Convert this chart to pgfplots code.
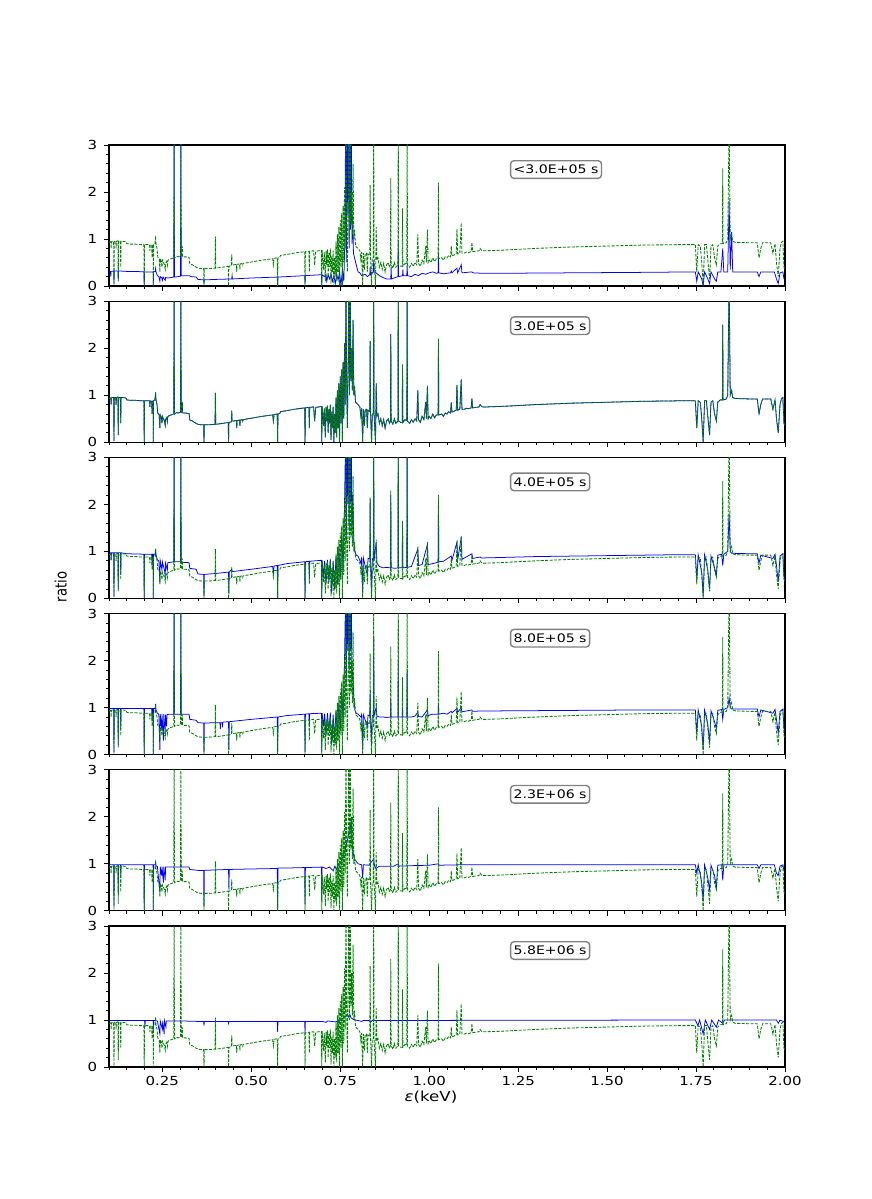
\documentclass[border=0pt]{standalone}
\usepackage{pgfplots}
\pgfplotsset{compat=1.18}
\usepackage{pgfplotstable}
\usepackage{graphicx}
\usepackage{fontspec}
\setmainfont{DejaVu Sans}
\definecolor{mplgreen}{rgb}{0,0.5,0}
\definecolor{mplblue}{rgb}{0,0,1}
\newcommand\sx[1]{\scalebox{1.2}[1]{#1}}

\pgfplotstableread{
x y
0.100 0.93
0.103 0.94
0.105 0.94
0.106 0.80
0.107 0.94
0.110 0.95
0.113 0.95
0.114 0.02
0.115 0.95
0.119 0.95
0.120 0.80
0.121 0.95
0.125 0.96
0.126 0.15
0.127 0.95
0.132 0.95
0.133 0.40
0.134 0.95
0.140 0.95
0.148 0.94
0.150 0.90
0.160 0.89
0.175 0.89
0.190 0.88
0.198 0.88
0.199 0.00
0.200 0.88
0.214 0.88
0.215 0.75
0.216 0.88
0.220 0.87
0.221 0.60
0.222 0.87
0.224 0.88
0.2245 0.00
0.225 0.88
0.229 0.90
0.231 1.06
0.232 0.90
0.235 0.80
0.237 0.62
0.241 0.58
0.243 0.30
0.244 0.58
0.247 0.52
0.249 0.40
0.250 0.55
0.253 0.50
0.256 0.45
0.258 0.36
0.259 0.48
0.262 0.52
0.264 0.44
0.265 0.54
0.270 0.57
0.275 0.58
0.282 0.60
0.283 3.50
0.284 0.60
0.290 0.63
0.295 0.62
0.301 0.64
0.302 3.50
0.303 0.62
0.306 0.85
0.307 0.62
0.315 0.62
0.325 0.61
0.327 0.47
0.335 0.45
0.340 0.42
0.345 0.40
0.350 0.38
0.360 0.37
0.366 0.37
0.367 0.00
0.368 0.37
0.380 0.37
0.398 0.38
0.399 1.05
0.400 0.38
0.420 0.40
0.435 0.42
0.436 0.00
0.437 0.42
0.444 0.43
0.445 0.67
0.446 0.45
0.450 0.45
0.458 0.46
0.459 0.30
0.460 0.46
0.467 0.47
0.468 0.35
0.469 0.47
0.475 0.48
0.476 0.45
0.477 0.48
0.500 0.51
0.530 0.55
0.560 0.58
0.562 0.45
0.564 0.59
0.573 0.60
0.574 0.00
0.575 0.60
0.580 0.61
0.582 0.65
0.600 0.67
0.620 0.70
0.640 0.72
0.650 0.73
0.651 0.00
0.652 0.73
0.662 0.74
0.663 0.30
0.664 0.74
0.675 0.75
0.678 0.45
0.681 0.74
0.690 0.75
0.697 0.76
0.698 0.00
0.699 0.76
0.703 0.35
0.705 0.72
0.708 0.10
0.710 0.75
0.712 0.45
0.714 0.78
0.716 0.20
0.718 0.70
0.720 0.40
0.722 0.80
0.724 0.05
0.726 0.65
0.728 0.30
0.730 0.75
0.732 0.00
0.734 0.60
0.736 0.20
0.738 0.95
0.740 0.10
0.742 1.10
0.744 0.30
0.746 1.25
0.748 0.00
0.750 1.40
0.752 0.40
0.754 1.55
0.756 0.00
0.758 1.70
0.760 0.50
0.762 2.10
0.764 0.80
0.766 3.50
0.768 1.20
0.770 0.30
0.772 1.60
0.774 3.50
0.776 1.00
0.778 3.50
0.780 1.30
0.782 2.00
0.784 1.10
0.786 2.60
0.788 1.00
0.790 1.20
0.793 0.85
0.797 0.82
0.800 0.80
0.805 0.75
0.808 0.55
0.810 0.72
0.813 0.00
0.815 0.70
0.818 0.35
0.820 0.68
0.824 0.70
0.826 0.30
0.828 0.68
0.833 0.65
0.834 2.15
0.835 0.65
0.838 0.00
0.840 0.60
0.843 0.60
0.844 3.50
0.845 0.60
0.849 0.00
0.851 1.25
0.853 0.55
0.856 0.60
0.860 0.40
0.864 0.50
0.868 0.35
0.872 0.48
0.876 0.30
0.880 0.45
0.885 0.50
0.888 0.40
0.891 0.45
0.892 2.30
0.893 0.45
0.898 0.38
0.902 0.50
0.906 0.40
0.912 0.45
0.913 3.50
0.914 0.45
0.920 0.42
0.924 0.42
0.925 1.65
0.926 0.42
0.932 0.48
0.937 0.46
0.938 3.50
0.939 0.45
0.945 0.40
0.950 0.48
0.955 0.42
0.960 0.50
0.965 0.45
0.968 1.10
0.970 0.48
0.975 0.42
0.980 0.55
0.985 0.48
0.990 0.85
0.992 0.50
0.995 1.20
0.997 0.50
1.000 0.55
1.005 0.50
1.010 0.60
1.015 0.52
1.020 0.58
1.025 0.58
1.026 2.20
1.027 0.58
1.035 0.60
1.040 0.55
1.045 0.62
1.050 0.60
1.055 0.65
1.060 0.62
1.062 0.85
1.064 0.64
1.070 0.66
1.076 0.68
1.078 1.22
1.080 0.68
1.086 0.70
1.090 1.34
1.092 0.70
1.098 0.70
1.105 0.72
1.110 0.71
1.118 0.73
1.120 0.93
1.122 0.73
1.130 0.74
1.140 0.75
1.143 0.80
1.147 0.76
1.150 0.75
1.160 0.75
1.200 0.76
1.250 0.78
1.300 0.80
1.400 0.83
1.500 0.85
1.600 0.87
1.700 0.88
1.748 0.88
1.752 0.30
1.756 0.88
1.762 0.85
1.766 0.50
1.770 0.00
1.774 0.88
1.779 0.88
1.783 0.55
1.788 0.15
1.792 0.85
1.797 0.88
1.802 0.60
1.807 0.45
1.811 0.85
1.818 0.90
1.824 0.90
1.825 2.50
1.826 0.90
1.835 0.92
1.839 1.00
1.843 3.50
1.846 1.00
1.850 1.10
1.853 0.95
1.860 0.93
1.900 0.92
1.922 0.92
1.927 0.60
1.932 0.80
1.937 0.92
1.960 0.92
1.966 0.70
1.972 0.90
1.976 0.50
1.981 0.20
1.986 0.80
1.990 0.93
1.994 0.95
1.997 0.40
2.000 0.35
}\Gtab

\pgfplotstableread{
x y
0.100 0.31
0.104 0.31
0.105 0.20
0.106 0.31
0.113 0.32
0.114 0.05
0.115 0.32
0.125 0.32
0.126 0.10
0.127 0.32
0.150 0.31
0.175 0.31
0.198 0.30
0.199 0.00
0.200 0.30
0.224 0.30
0.2245 0.00
0.225 0.30
0.230 0.31
0.231 0.37
0.232 0.30
0.236 0.22
0.240 0.20
0.243 0.10
0.244 0.20
0.248 0.18
0.250 0.12
0.252 0.19
0.258 0.12
0.259 0.18
0.265 0.17
0.275 0.18
0.282 0.19
0.283 3.50
0.284 0.19
0.295 0.20
0.301 0.21
0.302 3.50
0.303 0.22
0.315 0.22
0.327 0.22
0.330 0.20
0.345 0.19
0.350 0.14
0.366 0.13
0.367 0.05
0.368 0.13
0.400 0.14
0.445 0.15
0.446 0.22
0.447 0.15
0.500 0.17
0.573 0.19
0.574 0.00
0.575 0.19
0.600 0.20
0.650 0.22
0.651 0.05
0.652 0.22
0.697 0.24
0.698 0.00
0.699 0.24
0.705 0.20
0.710 0.25
0.712 0.10
0.716 0.24
0.720 0.15
0.724 0.25
0.728 0.10
0.732 0.22
0.736 0.05
0.740 0.25
0.744 0.12
0.748 0.30
0.752 0.00
0.756 0.35
0.760 0.10
0.763 1.00
0.765 3.50
0.767 0.50
0.769 3.50
0.771 1.50
0.773 3.50
0.775 0.80
0.777 3.50
0.779 1.20
0.781 3.50
0.783 0.90
0.785 1.50
0.787 0.70
0.790 0.60
0.795 0.45
0.800 0.30
0.805 0.28
0.810 0.22
0.820 0.25
0.826 0.20
0.833 0.24
0.834 0.40
0.835 0.24
0.843 0.30
0.844 0.55
0.845 0.30
0.850 0.28
0.860 0.22
0.870 0.18
0.880 0.15
0.892 0.15
0.893 0.40
0.894 0.15
0.905 0.18
0.912 0.20
0.913 0.95
0.914 0.20
0.925 0.22
0.926 0.35
0.927 0.22
0.937 0.22
0.938 0.45
0.939 0.22
0.950 0.20
0.960 0.25
0.970 0.22
0.980 0.27
0.990 0.25
1.000 0.28
1.010 0.30
1.020 0.27
1.025 0.28
1.026 0.70
1.027 0.28
1.040 0.26
1.060 0.28
1.062 0.32
1.064 0.28
1.078 0.38
1.080 0.28
1.090 0.45
1.092 0.28
1.120 0.30
1.122 0.28
1.150 0.27
1.200 0.27
1.400 0.28
1.600 0.29
1.748 0.30
1.752 0.10
1.756 0.30
1.766 0.15
1.770 0.00
1.774 0.30
1.783 0.15
1.788 0.05
1.792 0.30
1.802 0.15
1.807 0.10
1.811 0.30
1.820 0.30
1.825 0.80
1.828 0.30
1.839 0.30
1.843 1.80
1.846 0.35
1.850 1.15
1.853 0.30
1.900 0.30
1.922 0.30
1.927 0.20
1.932 0.30
1.970 0.30
1.976 0.15
1.981 0.05
1.986 0.28
1.994 0.30
1.997 0.15
2.000 0.15
}\Bone

\pgfplotstableread{
x y
0.100 0.97
0.105 0.97
0.106 0.82
0.107 0.97
0.113 0.97
0.114 0.05
0.115 0.97
0.125 0.97
0.126 0.20
0.127 0.97
0.132 0.97
0.133 0.50
0.134 0.97
0.150 0.95
0.198 0.94
0.199 0.00
0.200 0.94
0.220 0.94
0.221 0.70
0.222 0.94
0.224 0.94
0.2245 0.00
0.225 0.94
0.230 0.94
0.231 1.05
0.232 0.93
0.236 0.82
0.240 0.80
0.243 0.35
0.244 0.80
0.249 0.60
0.250 0.78
0.256 0.60
0.258 0.45
0.259 0.75
0.264 0.60
0.265 0.76
0.275 0.77
0.282 0.78
0.283 3.50
0.284 0.78
0.301 0.78
0.302 3.50
0.303 0.77
0.325 0.76
0.327 0.64
0.345 0.62
0.350 0.52
0.366 0.51
0.367 0.05
0.368 0.51
0.400 0.53
0.436 0.56
0.437 0.10
0.438 0.56
0.445 0.62
0.446 0.57
0.500 0.62
0.560 0.68
0.562 0.55
0.564 0.69
0.573 0.70
0.574 0.00
0.575 0.70
0.600 0.74
0.650 0.78
0.651 0.00
0.652 0.78
0.662 0.79
0.663 0.40
0.664 0.79
0.697 0.81
0.698 0.00
0.699 0.81
0.703 0.45
0.706 0.80
0.710 0.30
0.714 0.82
0.718 0.35
0.722 0.84
0.726 0.10
0.730 0.80
0.734 0.20
0.738 0.90
0.742 0.30
0.746 1.10
0.750 0.40
0.754 1.40
0.758 0.60
0.762 2.00
0.765 3.50
0.767 1.20
0.769 3.50
0.771 2.00
0.773 3.50
0.775 1.50
0.777 3.50
0.779 2.00
0.781 3.50
0.783 1.50
0.785 2.20
0.788 1.20
0.791 1.00
0.795 0.92
0.800 0.90
0.808 0.75
0.810 0.87
0.813 0.10
0.815 0.86
0.826 0.50
0.828 0.85
0.833 0.84
0.834 2.10
0.835 0.84
0.838 0.10
0.840 0.84
0.843 0.82
0.844 3.50
0.845 0.80
0.851 1.20
0.853 0.75
0.860 0.68
0.870 0.65
0.880 0.66
0.891 0.65
0.892 2.20
0.893 0.65
0.905 0.64
0.912 0.65
0.913 3.50
0.914 0.65
0.924 0.65
0.925 1.55
0.926 0.65
0.937 0.66
0.938 3.50
0.939 0.66
0.950 0.68
0.968 1.05
0.970 0.70
0.980 0.72
0.995 1.15
0.997 0.72
1.010 0.74
1.020 0.76
1.025 0.77
1.026 2.10
1.027 0.78
1.040 0.79
1.062 0.90
1.064 0.81
1.078 1.20
1.080 0.82
1.090 1.30
1.092 0.83
1.120 0.95
1.122 0.85
1.143 0.88
1.147 0.86
1.200 0.87
1.300 0.89
1.500 0.91
1.700 0.93
1.748 0.93
1.752 0.40
1.756 0.93
1.766 0.55
1.770 0.05
1.774 0.93
1.783 0.60
1.788 0.20
1.792 0.90
1.802 0.65
1.807 0.50
1.811 0.92
1.822 0.94
1.825 0.70
1.828 0.94
1.839 1.00
1.843 1.80
1.846 1.00
1.850 0.96
1.900 0.95
1.922 0.95
1.927 0.75
1.932 0.92
1.966 0.85
1.972 0.94
1.976 0.70
1.981 0.35
1.986 0.90
1.994 0.95
1.997 0.45
2.000 0.40
}\Bthree

\pgfplotstableread{
x y
0.100 0.98
0.113 0.98
0.114 0.05
0.115 0.98
0.125 0.98
0.126 0.20
0.127 0.98
0.132 0.98
0.133 0.55
0.134 0.98
0.198 0.98
0.199 0.00
0.200 0.98
0.220 0.98
0.221 0.75
0.222 0.98
0.224 0.98
0.2245 0.00
0.225 0.98
0.230 0.98
0.231 1.08
0.232 0.95
0.236 0.88
0.240 0.86
0.243 0.10
0.244 0.86
0.248 0.55
0.249 0.86
0.253 0.30
0.254 0.86
0.258 0.45
0.259 0.85
0.262 0.60
0.263 0.85
0.270 0.86
0.282 0.86
0.283 3.50
0.284 0.86
0.301 0.86
0.302 3.50
0.303 0.86
0.325 0.86
0.327 0.75
0.345 0.73
0.350 0.68
0.366 0.67
0.367 0.05
0.368 0.67
0.400 0.68
0.412 0.68
0.413 0.55
0.414 0.68
0.418 0.68
0.419 0.58
0.420 0.69
0.436 0.70
0.437 0.10
0.438 0.70
0.500 0.75
0.573 0.80
0.574 0.05
0.575 0.80
0.600 0.83
0.650 0.86
0.651 0.05
0.652 0.86
0.662 0.87
0.663 0.60
0.664 0.87
0.697 0.88
0.698 0.05
0.699 0.88
0.703 0.60
0.706 0.87
0.710 0.40
0.714 0.88
0.718 0.50
0.722 0.90
0.726 0.20
0.730 0.85
0.734 0.30
0.738 0.95
0.742 0.40
0.746 1.10
0.750 0.50
0.754 1.40
0.758 0.70
0.762 2.00
0.765 3.50
0.767 1.50
0.769 3.50
0.771 2.20
0.773 3.50
0.775 1.80
0.777 3.50
0.779 2.20
0.781 3.50
0.783 1.60
0.785 1.80
0.788 1.20
0.791 0.95
0.795 0.88
0.800 0.86
0.808 0.80
0.810 0.85
0.813 0.10
0.815 0.85
0.826 0.60
0.828 0.84
0.833 0.83
0.834 1.30
0.835 0.83
0.838 0.20
0.840 0.83
0.843 0.83
0.844 2.50
0.845 0.83
0.851 1.00
0.853 0.82
0.860 0.80
0.870 0.80
0.880 0.79
0.891 0.80
0.892 1.20
0.893 0.80
0.905 0.80
0.912 0.80
0.913 2.00
0.914 0.80
0.924 0.80
0.925 1.00
0.926 0.80
0.937 0.80
0.938 1.80
0.939 0.80
0.950 0.80
0.960 0.82
0.968 0.90
0.970 0.81
0.980 0.80
0.995 0.95
0.997 0.82
1.000 0.84
1.010 0.86
1.020 0.86
1.025 0.86
1.026 1.10
1.027 0.86
1.040 0.88
1.050 0.86
1.062 0.92
1.064 0.89
1.078 0.98
1.080 0.90
1.090 1.00
1.092 0.91
1.120 0.95
1.122 0.92
1.150 0.93
1.200 0.93
1.400 0.94
1.600 0.95
1.748 0.95
1.752 0.45
1.756 0.95
1.766 0.60
1.770 0.10
1.774 0.95
1.783 0.65
1.788 0.25
1.792 0.93
1.802 0.70
1.807 0.55
1.811 0.94
1.822 0.96
1.825 0.75
1.828 0.96
1.839 1.00
1.843 1.20
1.846 1.00
1.850 0.97
1.922 0.97
1.927 0.80
1.932 0.95
1.966 0.88
1.972 0.96
1.976 0.75
1.981 0.45
1.986 0.92
1.994 0.97
1.997 0.55
2.000 0.50
}\Bfour

\pgfplotstableread{
x y
0.100 0.98
0.113 0.98
0.114 0.10
0.115 0.98
0.125 0.98
0.126 0.40
0.127 0.98
0.132 0.98
0.133 0.75
0.134 0.98
0.198 0.98
0.199 0.00
0.200 0.98
0.224 0.98
0.2245 0.00
0.225 0.98
0.230 0.98
0.231 1.03
0.232 0.96
0.236 0.94
0.243 0.40
0.244 0.94
0.248 0.75
0.249 0.94
0.253 0.60
0.254 0.94
0.258 0.65
0.259 0.93
0.270 0.93
0.301 0.93
0.302 1.00
0.303 0.93
0.325 0.93
0.327 0.88
0.350 0.86
0.366 0.86
0.367 0.10
0.368 0.86
0.400 0.87
0.436 0.88
0.437 0.45
0.438 0.88
0.500 0.89
0.573 0.90
0.574 0.05
0.575 0.91
0.600 0.91
0.650 0.92
0.651 0.15
0.652 0.92
0.697 0.93
0.698 0.20
0.699 0.93
0.710 0.90
0.720 0.93
0.730 0.85
0.735 0.95
0.740 0.88
0.745 0.98
0.750 1.00
0.755 1.10
0.760 1.20
0.765 1.35
0.770 1.50
0.775 1.70
0.778 1.85
0.781 1.60
0.784 1.40
0.787 1.20
0.790 1.10
0.795 1.05
0.800 1.00
0.810 0.98
0.813 0.70
0.815 0.98
0.830 0.97
0.844 1.10
0.846 0.97
0.850 0.90
0.860 0.95
0.900 0.95
0.913 1.00
0.915 0.95
0.950 0.96
1.000 0.97
1.026 1.00
1.028 0.97
1.100 0.98
1.200 0.98
1.748 0.98
1.752 0.80
1.756 0.98
1.766 0.60
1.770 0.20
1.774 0.98
1.783 0.70
1.788 0.45
1.792 0.97
1.802 0.75
1.807 0.50
1.811 0.97
1.822 0.98
1.825 0.65
1.828 0.98
1.850 0.98
1.922 0.98
1.927 0.90
1.932 0.98
1.970 0.98
1.976 0.80
1.981 0.75
1.986 0.95
1.994 0.98
1.997 0.85
2.000 0.85
}\Bfive

\pgfplotstableread{
x y
0.100 0.99
0.200 0.99
0.201 0.85
0.202 0.99
0.224 0.99
0.2245 0.75
0.225 0.99
0.236 0.98
0.243 0.70
0.244 0.98
0.250 0.80
0.251 0.98
0.255 0.70
0.256 0.98
0.260 0.85
0.261 0.98
0.300 0.98
0.350 0.97
0.366 0.97
0.367 0.88
0.368 0.97
0.435 0.97
0.436 0.93
0.437 0.97
0.500 0.97
0.573 0.97
0.574 0.75
0.575 0.97
0.650 0.97
0.651 0.72
0.652 0.97
0.700 0.97
0.710 0.95
0.715 0.98
0.735 0.96
0.740 0.97
0.745 0.95
0.750 1.00
0.755 1.02
0.760 1.05
0.765 1.08
0.770 1.12
0.774 1.06
0.777 1.12
0.780 1.05
0.785 1.02
0.790 1.00
0.800 0.99
0.810 0.97
0.815 0.99
0.830 0.99
0.835 0.95
0.840 0.99
0.900 0.99
1.748 1.00
1.755 0.88
1.760 1.00
1.770 0.70
1.776 1.00
1.788 0.80
1.794 1.00
1.807 0.85
1.813 1.00
1.825 0.93
1.830 1.00
1.976 1.00
1.981 0.93
1.986 1.00
2.000 0.95
}\Bsix

\pgfplotsset{
  panel/.style={
    at={(78.48bp,#1)}, anchor=south west,
    scale only axis, width=486.72bp, height=101.52bp,
    xmin=0.1, xmax=2.0, ymin=0, ymax=3,
    xtick={0.25,0.5,0.75,1,1.25,1.5,1.75,2},
    minor xtick={0.1,0.15,0.2,0.3,0.35,0.4,0.45,0.55,0.6,0.65,0.7,0.8,0.85,0.9,0.95,1.05,1.1,1.15,1.2,1.3,1.35,1.4,1.45,1.55,1.6,1.65,1.7,1.8,1.85,1.9,1.95},
    ytick={0,1,2,3},
    minor ytick={0.2,0.4,0.6,0.8,1.2,1.4,1.6,1.8,2.2,2.4,2.6,2.8},
    yticklabels={\sx{0},\sx{1},\sx{2},\sx{3}},
    xticklabels={},
    tick align=outside, xtick pos=left, ytick pos=left,
    major tick length=3.5bp, minor tick length=2bp,
    every tick/.style={black, line width=0.6pt},
    axis line style={line width=0.8pt, black},
    tick label style={font=\fontsize{9}{11}\selectfont},
    yticklabel style={xshift=-1.5bp},
    clip=true,
  },
  bl/.style={mplblue, line width=0.55pt, mark=none},
  gr/.style={mplgreen, line width=0.6pt, mark=none, dash pattern=on 2.2pt off 1pt},
}
\tikzset{
  lab/.style={anchor=west, draw=gray, fill=white, rounded corners=2.5bp, line width=1bp,
    inner xsep=2.2bp, inner ysep=0pt, minimum height=12.7bp, font=\fontsize{8.5}{10}\selectfont},
}

\begin{document}
\begin{tikzpicture}
\useasboundingbox (0,0) rectangle (627.84bp,863.28bp);

\begin{axis}[panel=657.36bp]
\addplot[bl] table[x=x,y=y] {\Bone};
\addplot[gr] table[x=x,y=y] {\Gtab};
\node[lab] at (rel axis cs:0.593,0.826) {\sx{<3.0E+05 s}};
\end{axis}

\begin{axis}[panel=544.90bp]
\addplot[bl] table[x=x,y=y] {\Gtab};
\addplot[gr] table[x=x,y=y] {\Gtab};
\node[lab] at (rel axis cs:0.593,0.826) {\sx{3.0E+05 s}};
\end{axis}

\begin{axis}[panel=432.43bp]
\addplot[bl] table[x=x,y=y] {\Bthree};
\addplot[gr] table[x=x,y=y] {\Gtab};
\node[lab] at (rel axis cs:0.593,0.826) {\sx{4.0E+05 s}};
\end{axis}

\begin{axis}[panel=319.97bp]
\addplot[bl] table[x=x,y=y] {\Bfour};
\addplot[gr] table[x=x,y=y] {\Gtab};
\node[lab] at (rel axis cs:0.593,0.826) {\sx{8.0E+05 s}};
\end{axis}

\begin{axis}[panel=207.50bp]
\addplot[bl] table[x=x,y=y] {\Bfive};
\addplot[gr] table[x=x,y=y] {\Gtab};
\node[lab] at (rel axis cs:0.593,0.826) {\sx{2.3E+06 s}};
\end{axis}

\begin{axis}[panel=95.04bp, xticklabels={\sx{0.25},\sx{0.50},\sx{0.75},\sx{1.00},\sx{1.25},\sx{1.50},\sx{1.75},\sx{2.00}}]
\addplot[bl] table[x=x,y=y] {\Bsix};
\addplot[gr] table[x=x,y=y] {\Gtab};
\node[lab] at (rel axis cs:0.593,0.826) {\sx{5.8E+06 s}};
\end{axis}

\node[rotate=90, font=\fontsize{9.5}{11}\selectfont] at (43.7bp,440.64bp) {\scalebox{1}[1.2]{ratio}};
\node[font=\fontsize{10}{12}\selectfont] at (310.3bp,73.44bp) {\sx{\textit{ε}(keV)}};
\end{tikzpicture}
\end{document}
